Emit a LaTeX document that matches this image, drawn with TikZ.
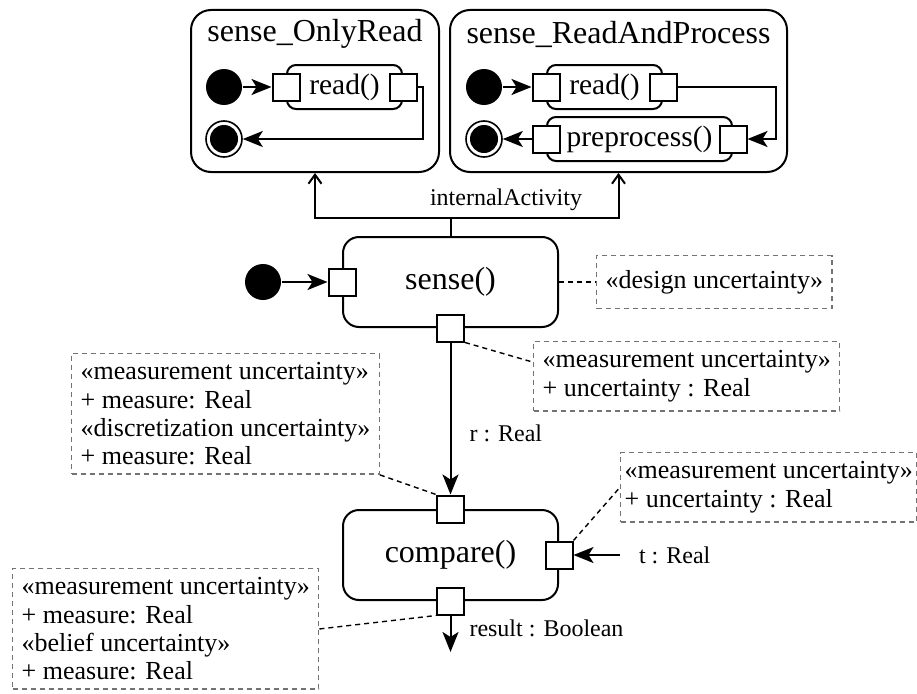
\documentclass[tikz,border=0pt]{standalone}
\usepackage{fontspec}
\setmainfont{Liberation Serif}
\usetikzlibrary{positioning,arrows.meta,calc}

\newcommand\notefont{\fontsize{26}{28.3}\selectfont}
\newcommand\lblfont{\fontsize{24}{28}\selectfont}
\newcommand\actfont{\fontsize{29.5}{32}\selectfont}
\newcommand\bigfont{\fontsize{32}{36}\selectfont}

\begin{document}
\begin{tikzpicture}[
        x=1pt, y=-1pt,
        font=\notefont,
        line width=2pt,
        >={Stealth[length=20pt,width=16pt,inset=5pt]},
        actframe/.style={
            rectangle,
            draw,
            rounded corners=20pt,
            minimum height=162pt,
            minimum width=#1
        },
        actbox/.style={
            rectangle,
            draw,
            rounded corners=9pt,
            minimum height=44pt,
            minimum width=#1,
            font=\actfont
        },
        callbox/.style={
            rectangle,
            draw,
            rounded corners=16pt,
            minimum height=90pt,
            minimum width=215pt,
            font=\bigfont
        },
        port/.style={rectangle, draw, fill=white, inner sep=0pt,
            minimum width=27pt, minimum height=27pt},
        initnode/.style={circle, fill, inner sep=0pt, minimum size=36pt},
        finalnode/.style={circle, draw, fill=white, inner sep=0pt,
            line width=1.6pt, minimum size=36pt,
            path picture={\fill[black] (path picture bounding box.center) circle (14pt);}},
        notebox/.style={
            rectangle,
            draw=black!55,
            line width=1.4pt,
            dash pattern=on 5pt off 4pt,
            align=left,
            inner xsep=9pt,
            inner ysep=9pt,
            anchor=north west
        },
        noteline/.style={line width=1.4pt, dash pattern=on 5pt off 4pt},
        barb/.style={-{Straight Barb[length=9pt,width=13pt]}},
        lbl/.style={anchor=west, inner sep=0pt, font=\lblfont},
    ]

        \useasboundingbox (0,0) rectangle (917,693);

        \node[actframe=248pt] (fOnly) at (315,91) {};
        \node[font=\bigfont] (tOnly) at (315,34) {sense\_OnlyRead};
        \node[actframe=337pt] (fProc) at (618.5,91) {};
        \node[font=\bigfont] (tProc) at (618.5,34) {sense\_ReadAndProcess};

        \node[actbox=115pt] (readA) at (344.5,87) {read()};
        \node[actbox=115pt] (readB) at (604.5,87) {read()};
        \node[actbox=185pt] (prep) at (639.5,139) {preprocess()};

        \foreach \act in {readA,readB,prep}{
            \node[port] (\act In) at (\act.west) {};
            \node[port] (\act Out) at (\act.east) {};
        }

        \node[initnode] (iniA) at (224,87) {};
        \node[finalnode] (finA) at (224,139) {};
        \node[initnode] (iniB) at (484,87) {};
        \node[finalnode] (finB) at (484,139) {};

        \draw[->] (iniA) -- (readAIn);
        \draw[->] (readAOut) -- ++(20,0) |- (finA);
        \draw[->] (iniB) -- (readBIn);
        \draw[->] (readBOut) -- ++(113,0) |- (prepOut);
        \draw[->] (prepIn) -- (finB);

        \node[callbox] (sense) at (450.5,282) {sense()};
        \node[callbox] (cmp) at (450.5,555) {compare()};

        \draw[barb] (sense.north) -- ++(0,-18) coordinate (fork) -| (fOnly.south);
        \draw[barb] (fork) -| (fProc.south);
        \node[anchor=south, font=\lblfont] (intAct) at (506,215) {internalActivity};

        \node[port] (senseIn) at (sense.west) {};
        \node[port] (senseOut) at (sense.south) {};
        \node[port] (cmpIn) at (cmp.north) {};
        \node[port] (cmpT) at (cmp.east) {};
        \node[port] (cmpOut) at (cmp.south) {};

        \node[initnode] (iniS) at (263,282) {};
        \coordinate (tSrc) at (620,555);
        \coordinate (resEnd) at (450.5,652);

        \draw[->] (iniS) -- (senseIn);
        \draw[->] (senseOut) -- node[lbl, pos=0.6, xshift=18pt] (rLbl) {r : Real} (cmpIn);
        \draw[->] (tSrc) -- (cmpT);
        \node[lbl] (tLbl) at (638,555) {t : Real};
        \draw[->] (cmpOut) -- node[lbl, pos=0.36, xshift=18pt] (resLbl) {result : Boolean} (resEnd);

        \node[notebox, anchor=west, minimum height=53pt] (nDesign) at (596,282)
            {«design uncertainty»};
        \node[notebox] (nSense) at (533,341)
            {«measurement uncertainty»\\+ uncertainty : Real};
        \node[notebox] (nLeft) at (71,353)
            {«measurement uncertainty»\\+ measure: Real\\«discretization uncertainty»\\+ measure: Real};
        \node[notebox, inner xsep=4pt] (nCmp) at (620,452)
            {«measurement uncertainty»\\+ uncertainty : Real};
        \node[notebox] (nBot) at (12,568)
            {«measurement uncertainty»\\+ measure: Real\\«belief uncertainty»\\+ measure: Real};

        \draw[noteline] (sense.east) -- (nDesign.west);
        \draw[noteline] (senseOut.south east) -- ($(nSense.north west)!0.3!(nSense.south west)$);
        \draw[noteline] (nLeft.south east) -- (cmpIn.north west);
        \draw[noteline] (cmpT.north east) -- (nCmp.west);
        \draw[noteline] (nBot.east) -- (cmpOut.south west);

    \end{tikzpicture}
\end{document}
